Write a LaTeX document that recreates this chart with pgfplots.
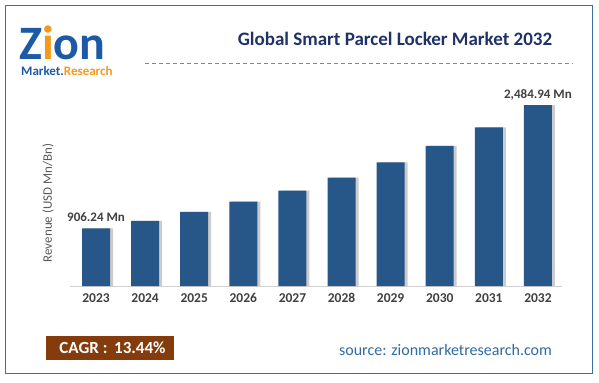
\documentclass[border=0pt]{standalone}
\usepackage{pgfplots}
\pgfplotsset{compat=1.18}
\usepackage{fontspec}
\setmainfont{Carlito}
\definecolor{frameblue}{HTML}{3E6FA3}
\definecolor{titlenavy}{HTML}{1F3268}
\definecolor{barblue}{HTML}{275788}
\definecolor{lbl}{HTML}{404040}
\definecolor{ylbl}{HTML}{595959}
\definecolor{cagr}{HTML}{843C0C}
\definecolor{srcblue}{HTML}{2F6AA3}
\definecolor{dashblue}{HTML}{5B8BD6}
\definecolor{logoblue}{HTML}{1C5AA6}
\definecolor{logoorange}{HTML}{F39A1E}
\begin{document}
\begin{tikzpicture}
\begin{scope}[x=1bp,y=1bp]
% page
\fill[white] (0,0) rectangle (599,382);
\draw[frameblue, line width=1.5bp] (5.7,8.5) rectangle (592.7,376.3);
% logo (one text block)
\node[anchor=north west, inner sep=0, align=left, font=\bfseries] at (19,356)
  {{\fontsize{48bp}{48bp}\selectfont\textcolor{logoblue}{Z}\textcolor{logoorange}{i}\textcolor{logoblue}{on}}\\[4bp]
   \hspace*{2bp}{\fontsize{13bp}{13bp}\selectfont\textcolor{logoblue}{Market.}\textcolor{logoorange}{Research}}};
% title
\node[anchor=base, inner sep=0, text=titlenavy, font=\fontsize{19bp}{19bp}\selectfont\bfseries] at (395,337)
  {Global Smart Parcel Locker Market 2032};
\draw[dashblue, line width=0.8bp, dash pattern=on 4bp off 3bp] (145,319) -- (573,319);
% y label
\node[rotate=90, inner sep=0, text=ylbl, font=\fontsize{13bp}{13bp}\selectfont] at (48,179)
  {Revenue (USD Mn/Bn)};
% CAGR box
\fill[cagr] (46,22) rectangle (174,46.3);
\node[inner sep=0, text=white, font=\fontsize{17bp}{17bp}\selectfont\bfseries] at (112.5,34.2) {CAGR :\, 13.44\%};
% source
\node[anchor=base, inner sep=0, text=srcblue, font=\fontsize{16bp}{16bp}\selectfont] at (445.5,26.5) {source: zionmarketresearch.com};
\end{scope}
% axis
\begin{axis}[
  at={(70bp,96bp)}, anchor=south west,
  width=492bp, height=191bp, scale only axis,
  xmin=-0.53, xmax=9.49, ymin=167.4, ymax=2613,
  axis x line*=bottom, axis y line=none,
  x axis line style={draw=black!18, line width=0.8bp, -},
  xtick=data,
  xticklabels={2023,2024,2025,2026,2027,2028,2029,2030,2031,2032},
  major tick length=0pt,
  xticklabel style={text=lbl, font=\fontsize{13.5bp}{14bp}\selectfont\bfseries, yshift=-4bp},
  /pgf/number format/assume math mode=true,
  ybar, bar width=28bp,
  clip mode=individual,
]
\addplot[draw=none, fill=black!20, bar shift=3bp] coordinates {
 (0,906.24) (1,1000) (2,1115) (3,1247) (4,1388) (5,1554) (6,1751) (7,1960) (8,2199) (9,2484.94)};
\addplot[draw=none, fill=barblue, bar shift=0bp] coordinates {
 (0,906.24) (1,1000) (2,1115) (3,1247) (4,1388) (5,1554) (6,1751) (7,1960) (8,2199) (9,2484.94)};
\node[anchor=base, inner sep=0, text=lbl, font=\fontsize{13bp}{13bp}\selectfont\bfseries, yshift=7bp] at (axis cs:0,906.24) {906.24 Mn};
\node[anchor=base, inner sep=0, text=lbl, font=\fontsize{13bp}{13bp}\selectfont\bfseries, yshift=7bp] at (axis cs:9,2484.94) {2,484.94 Mn};
\end{axis}
\end{tikzpicture}
\end{document}
